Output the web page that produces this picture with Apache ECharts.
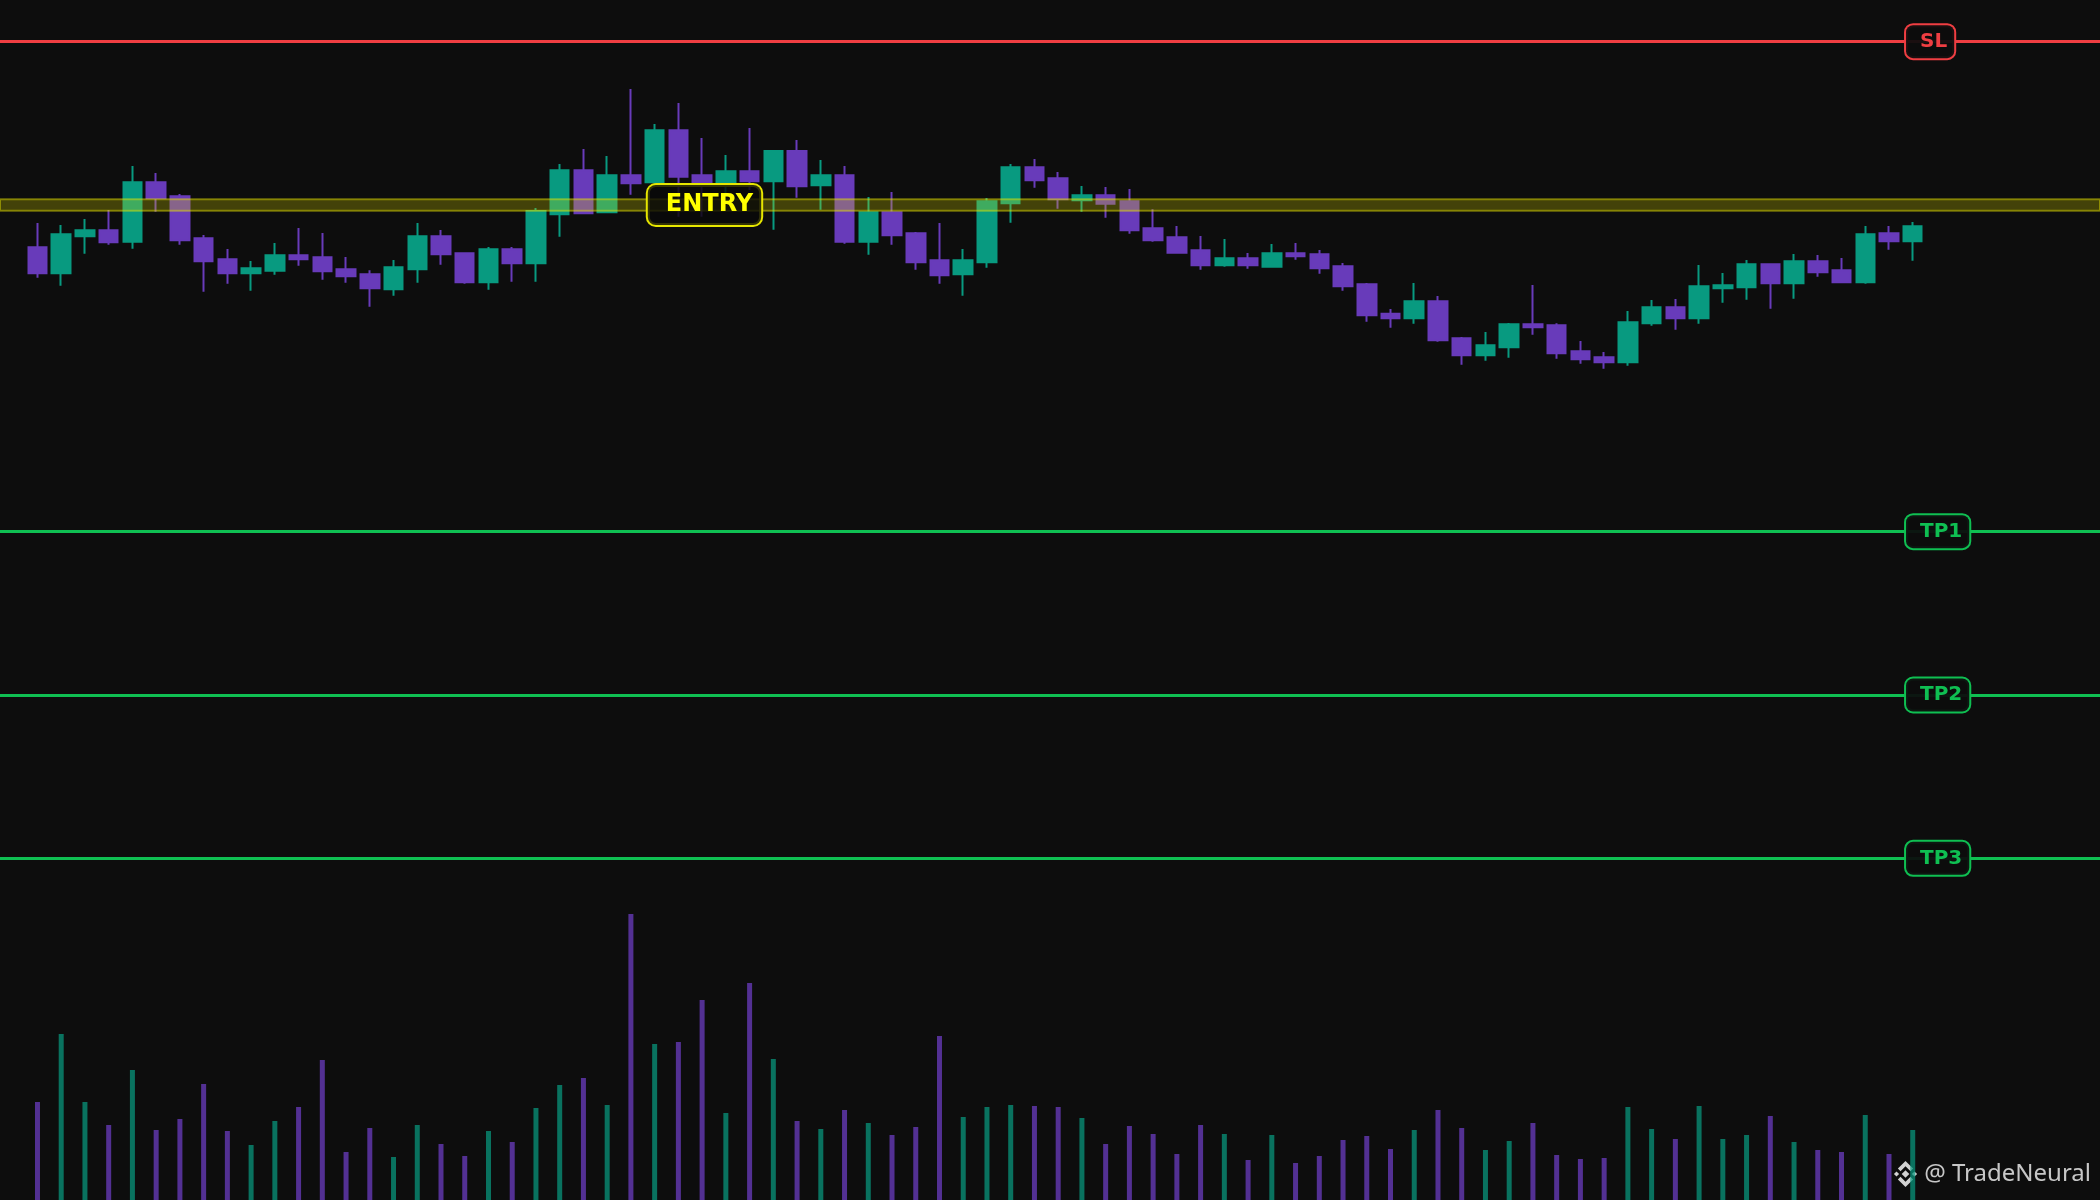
<!DOCTYPE html>
<html>
<head>
<meta charset="utf-8">
<script src="https://cdn.jsdelivr.net/npm/echarts@6/dist/echarts.min.js"></script>
<style>
html,body{margin:0;padding:0;background:#0d0d0d;}
#c{width:2100px;height:1200px;}
</style>
</head>
<body>
<div id="c"></div>
<script>
// ---------- data ----------
const categories = Array.from({length: 80}, (_, i) => 'C' + (i + 1));

const opens = [2487.3, 2479.5, 2490.6, 2492.4, 2489.0, 2506.8, 2502.6, 2490.0, 2483.7, 2479.5,
  2480.3, 2484.9, 2484.3, 2480.7, 2479.2, 2474.7, 2480.7, 2490.6, 2485.5, 2476.8,
  2486.7, 2482.5, 2497.2, 2510.4, 2497.8, 2508.9, 2506.8, 2522.4, 2508.9, 2506.5,
  2510.1, 2507.1, 2516.2, 2505.9, 2508.9, 2489.0, 2497.8, 2491.5, 2483.4, 2479.2,
  2482.8, 2500.5, 2511.3, 2508.0, 2501.4, 2502.9, 2501.1, 2493.0, 2490.3, 2486.4,
  2481.9, 2484.0, 2481.5, 2485.5, 2485.2, 2481.6, 2476.2, 2467.4, 2466.0, 2471.1,
  2460.0, 2454.9, 2457.3, 2464.2, 2463.9, 2456.1, 2454.3, 2452.8, 2464.5, 2469.3,
  2466.0, 2475.0, 2475.3, 2482.2, 2476.5, 2483.1, 2480.4, 2476.8, 2491.5, 2489.1];

const closes = [2479.5, 2491.2, 2492.4, 2488.8, 2506.8, 2502.0, 2489.4, 2483.1, 2479.5, 2481.0,
  2484.9, 2483.7, 2480.1, 2478.6, 2475.0, 2481.3, 2490.6, 2485.2, 2476.8, 2486.7,
  2482.5, 2498.2, 2510.4, 2497.5, 2508.9, 2506.5, 2522.4, 2508.5, 2506.5, 2510.1,
  2507.1, 2516.2, 2505.6, 2508.9, 2489.0, 2497.8, 2490.9, 2482.8, 2478.9, 2483.4,
  2501.1, 2511.3, 2507.4, 2501.7, 2502.9, 2500.4, 2492.4, 2489.4, 2485.7, 2481.9,
  2484.0, 2481.9, 2485.5, 2484.6, 2481.0, 2475.6, 2466.9, 2466.0, 2471.1, 2459.4,
  2454.9, 2457.9, 2464.2, 2463.3, 2455.5, 2453.7, 2452.8, 2464.8, 2469.3, 2466.0,
  2475.6, 2475.9, 2482.2, 2476.5, 2483.1, 2479.8, 2476.8, 2491.2, 2489.1, 2493.6];

const lows = [2478.2, 2475.8, 2485.4, 2488.1, 2486.9, 2498.0, 2488.1, 2474.0, 2476.4, 2474.3,
  2479.1, 2481.8, 2477.6, 2476.7, 2469.5, 2472.8, 2476.7, 2482.1, 2476.4, 2474.6,
  2477.0, 2477.0, 2490.5, 2497.2, 2497.5, 2503.1, 2505.5, 2496.5, 2496.5, 2503.5,
  2504.5, 2492.6, 2502.2, 2498.6, 2488.4, 2485.1, 2488.1, 2480.6, 2476.4, 2472.8,
  2481.2, 2494.7, 2505.2, 2498.9, 2498.0, 2496.2, 2491.4, 2489.0, 2485.4, 2480.6,
  2481.5, 2480.9, 2481.2, 2483.6, 2479.4, 2474.3, 2465.0, 2463.2, 2464.4, 2459.0,
  2452.1, 2453.3, 2454.2, 2461.1, 2453.9, 2452.4, 2450.9, 2451.8, 2463.8, 2462.6,
  2464.4, 2470.7, 2471.6, 2468.9, 2471.9, 2478.5, 2476.5, 2476.4, 2486.6, 2483.3];

const highs = [2494.6, 2494.0, 2495.8, 2498.5, 2511.7, 2509.6, 2503.3, 2491.0, 2486.8, 2483.2,
  2488.6, 2493.1, 2491.6, 2484.4, 2480.4, 2483.5, 2494.6, 2492.5, 2485.6, 2487.4,
  2487.4, 2499.1, 2512.3, 2516.8, 2514.7, 2534.8, 2524.3, 2530.6, 2520.1, 2515.0,
  2523.1, 2516.5, 2519.5, 2513.5, 2511.7, 2502.4, 2503.9, 2491.9, 2494.6, 2486.8,
  2502.1, 2512.3, 2513.8, 2509.9, 2505.7, 2505.4, 2504.8, 2498.7, 2493.7, 2490.7,
  2489.8, 2485.6, 2488.3, 2488.6, 2486.5, 2482.6, 2476.6, 2468.8, 2476.6, 2472.7,
  2460.4, 2461.9, 2464.6, 2476.0, 2464.5, 2459.2, 2455.9, 2468.2, 2471.5, 2471.8,
  2482.0, 2479.6, 2483.5, 2482.3, 2485.3, 2485.0, 2484.1, 2493.7, 2493.7, 2494.9];

const volumes = [294, 498, 294, 225, 390, 210, 243, 348, 207, 165,
  237, 279, 420, 144, 216, 129, 225, 168, 132, 207,
  174, 276, 345, 366, 285, 858, 468, 474, 600, 261,
  651, 423, 237, 213, 270, 231, 195, 219, 492, 249,
  279, 285, 282, 279, 246, 168, 222, 198, 138, 225,
  198, 120, 195, 111, 132, 180, 192, 153, 210, 270,
  216, 150, 177, 231, 135, 123, 126, 279, 213, 183,
  282, 183, 195, 252, 174, 150, 144, 255, 138, 210];

const levelNames  = ['SL', 'ENTRY', 'TP1', 'TP2', 'TP3'];
const levelPrices = [2549, 2500, 2402, 2353, 2304];
const entryCandleIndex = 28;

// ---------- styling / layout ----------
const UP = '#089a80', DOWN = '#683bba';
const RED = '#ef3e42', GREEN = '#0fbf52', YELLOW = '#ffff00';
const W = 2100, H = 1200;
const GL = 25.6, GR = 175.4;
const N = categories.length;
const B = (W - GL - GR) / N;
const xMin = -GL / B - 0.5;
const xMax = (W - GL) / B - 0.5;
const yMin = 2201.5, yMax = 2561.5;

const candleData = opens.map((o, i) => [o, closes[i], lows[i], highs[i]]);
const volData = volumes.map((v, i) => ({
  value: v,
  itemStyle: {color: closes[i] >= opens[i] ? 'rgba(8,154,128,0.72)' : 'rgba(104,59,186,0.78)'}
}));

const entryPrice = levelPrices[levelNames.indexOf('ENTRY')];
const bandHalf = 1.75;

const markLines = [];
const markPoints = [];
levelNames.forEach((name, i) => {
  const p = levelPrices[i];
  if (name === 'ENTRY') {
    markPoints.push({
      coord: [entryCandleIndex + 0.1, p],
      label: {
        show: true, position: 'inside', formatter: name,
        color: YELLOW, fontFamily: 'DejaVu Sans', fontWeight: 'bold', fontSize: 24, lineHeight: 26,
        backgroundColor: 'rgba(8,8,8,0.82)', borderColor: '#e6e600', borderWidth: 2, borderRadius: 8,
        padding: [7, 8, 7, 18]
      }
    });
  } else {
    const col = name === 'SL' ? RED : GREEN;
    markLines.push({yAxis: p, lineStyle: {color: col, width: 3, type: 'solid', opacity: 1}});
    markPoints.push({
      coord: [(1906 - GL) / B - 0.5, p],
      label: {
        show: true, position: 'right', distance: 0, formatter: name,
        color: col, fontFamily: 'DejaVu Sans', fontWeight: 'bold', fontSize: 20, lineHeight: 22,
        backgroundColor: 'rgba(13,13,13,0.94)', borderColor: col, borderWidth: 2, borderRadius: 7,
        padding: [5.5, 7, 5.5, 14]
      }
    });
  }
});

const chart = echarts.init(document.getElementById('c'), null, {renderer: 'canvas'});
const option = {
  animation: false,
  backgroundColor: '#0d0d0d',
  grid: [
    {left: GL, right: GR, top: 0, height: H},
    {left: 0, right: 0, top: 0, height: H},
    {left: GL, right: GR, top: 880, height: 320}
  ],
  xAxis: [
    {type: 'category', data: categories, gridIndex: 0, show: false, boundaryGap: true},
    {type: 'value', gridIndex: 1, min: xMin, max: xMax, show: false},
    {type: 'category', data: categories, gridIndex: 2, show: false, boundaryGap: true}
  ],
  yAxis: [
    {type: 'value', gridIndex: 0, min: yMin, max: yMax, show: false, splitLine: {show: false}},
    {type: 'value', gridIndex: 1, min: yMin, max: yMax, show: false, splitLine: {show: false}},
    {type: 'value', gridIndex: 2, min: 0, max: 960, show: false, splitLine: {show: false}}
  ],
  series: [
    {
      type: 'bar', xAxisIndex: 2, yAxisIndex: 2, data: volData, barWidth: 5, z: 1, silent: true
    },
    {
      type: 'candlestick', xAxisIndex: 0, yAxisIndex: 0, data: candleData, barWidth: 19, z: 3,
      itemStyle: {color: UP, color0: DOWN, borderColor: UP, borderColor0: DOWN, borderWidth: 2}
    },
    {
      type: 'line', xAxisIndex: 1, yAxisIndex: 1, data: [[xMin, entryPrice], [xMax, entryPrice]],
      symbol: 'none', lineStyle: {opacity: 0}, silent: true, z: 10,
      markArea: {
        silent: true, z: 10,
        itemStyle: {color: 'rgba(225,220,0,0.26)', borderColor: 'rgba(235,230,0,0.45)', borderWidth: 2},
        data: [[{coord: [xMin, entryPrice - bandHalf]}, {coord: [xMax, entryPrice + bandHalf]}]]
      },
      markLine: {
        silent: true, z: 11, symbol: ['none', 'none'], label: {show: false},
        data: markLines
      },
      markPoint: {
        silent: true, z: 12, symbol: 'rect', symbolSize: 0.1,
        itemStyle: {color: 'rgba(0,0,0,0)'},
        data: markPoints
      }
    }
  ],
  graphic: [
    {
      type: 'group', x: 1905.5, y: 1174, z: 100, silent: true,
      children: [
        {type: 'polygon', shape: {points: [[0,-3.8],[3.8,0],[0,3.8],[-3.8,0]]}, style: {fill: '#d2d2d2'}},
        {type: 'polygon', shape: {points: [[-9,-2.6],[-6.4,0],[-9,2.6],[-11.6,0]]}, style: {fill: '#d2d2d2'}},
        {type: 'polygon', shape: {points: [[9,-2.6],[11.6,0],[9,2.6],[6.4,0]]}, style: {fill: '#d2d2d2'}},
        {type: 'polygon', shape: {points: [[0,-13],[7.6,-5.4],[5,-2.8],[0,-7.8],[-5,-2.8],[-7.6,-5.4]]}, style: {fill: '#d2d2d2'}},
        {type: 'polygon', shape: {points: [[0,13],[7.6,5.4],[5,2.8],[0,7.8],[-5,2.8],[-7.6,5.4]]}, style: {fill: '#d2d2d2'}}
      ]
    },
    {
      type: 'text', x: 2091, y: 1174, z: 100, silent: true,
      style: {
        text: '@ TradeNeural', fill: 'rgba(215,215,215,0.92)',
        font: '24px "Noto Sans"', textAlign: 'right', textVerticalAlign: 'middle'
      }
    }
  ]
};
chart.setOption(option);
</script>
</body>
</html>
